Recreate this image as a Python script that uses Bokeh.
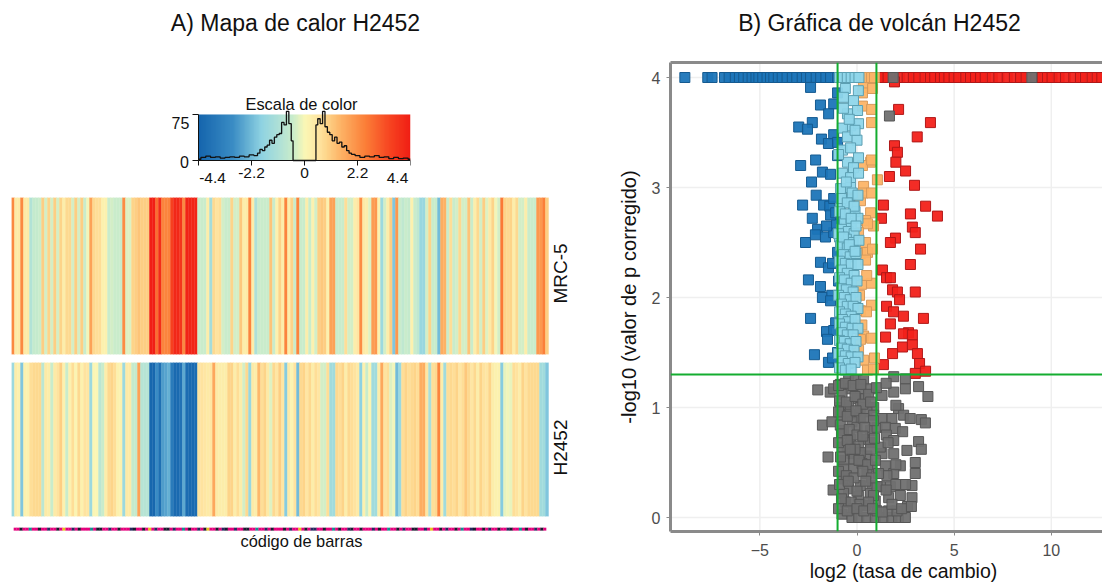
from bokeh.plotting import figure
from bokeh.layouts import row, column
from bokeh.models import Label, Span, FixedTicker, LinearAxis, ColumnDataSource, LinearColorMapper
from bokeh.transform import linear_cmap, factor_cmap
from bokeh.embed import file_html
from bokeh.resources import INLINE
import numpy as np, math

FONT = "Liberation Sans"

# ---------- heat map values ----------
mrc5 = [2.3,.4,.4,2.3,.4,.4,-1.0,-.6,-.6,-.5,1.0,-.4,.9,-.4,1.0,-.4,.9,.3,.8,.8,-.4,1.0,-.4,1.0,-.5,-.1,1.8,.8,.7,.7,.2,.2,-.5,-.4,-.5,-.5,-.5,2.2,-.3,-.3,.9,1.0,1.2,1.0,1.0,1.0,
4.3,4.3,2.8,4.0,2.4,2.4,2.4,3.6,4.1,4.1,3.8,2.3,4.2,4.2,4.2,4.2,
-.5,-.5,-.5,.3,-1.3,.8,.6,.7,-.4,-.5,-.5,.9,-.4,-.4,1.1,.3,.4,2.4,.3,-1.1,-.5,-.5,-.5,-.5,1.2,-.5,.2,.9,
.3,2.4,.3,.9,-.5,2.4,-.5,-.5,.3,-.5,.2,-.4,1.0,1.1,1.0,.2,1.8,1.8,-.5,-.5,-.5,.7,-.4,-.4,.3,.5,2.2,.4,.3,-.3,1.9,2.0,.2,-1.5,-.4,.3,1.0,-2.0,2.0,-.5,-.7,-.5,-.6,.2,-.5,-.7,-1.6,-1.6,-.4,.9,-.5,-.5,-2.2,1.6,1.5,-.5,.7,-.5,-.4,.8,-.4,-.4,1.2,-.5,.3,.8,-.4,1.0,-.3,.4,.9,-.1,-.4,2.6,.9,.8,.9,.3,.8,-.4,-.4,.3,-.5,-.5,-.5,2.0,2.0,2.5,1.0]
h2452 = [-1.5,.3,.2,-2.0,.2,.2,.7,.8,.8,.8,-.8,.4,.3,-.5,.4,.6,1.0,.2,-.5,.2,.7,.1,.8,.2,.6,.5,-1.5,.0,.0,-.8,-.5,.3,.8,.9,.7,.2,.2,-1.5,.4,.4,-.6,-.6,1.8,-.9,-.9,-.9,
-4.3,-4.3,-3.0,-4.0,-2.7,-2.6,-2.4,-3.6,-4.2,-4.2,-3.9,-2.5,-4.1,-4.2,-4.2,-4.1,
.6,.6,.5,.4,.5,1.7,.4,.3,.3,.3,.9,.9,.3,.7,.3,-.4,.8,-1.6,.4,.3,1.4,.7,.9,.4,-.3,.8,.5,1.0,
.5,-1.9,.4,.1,.6,-2.2,.8,.9,.5,.8,.3,.7,.5,-.4,-.4,.7,-1.4,-1.4,.8,.7,.9,.3,.8,.7,.6,.4,-1.8,.2,-.5,.1,-1.4,-1.4,.3,1.7,.6,.7,-.3,-.1,-2.2,-1.5,.7,.9,.7,.8,.9,.7,1.6,1.6,.5,-1.2,.7,.8,2.4,.3,-1.4,.7,.8,.7,.9,.5,.7,1.1,.8,.5,.8,.3,.9,.6,.5,.9,.3,.2,.2,-1.9,-.2,-.1,-.2,.7,.6,.3,.9,.6,.8,.8,.8,.8,-1.4,-1.4,-2.0]
barcode = list("mmkmmtmmkmmnmmkmymmnmkmmmtmkkmmnmmkmmmnkmmkmymnmmkkmnmmtmkmmnmkymmkmnkmmnmmkkmmtmmnmkmmmkmnmmymkmnnmmkmmtmkmmnkmmkmmmnmkmmtmmkmnmmkkmmnmymmkmnmmkmtmmnkmmkmnmmkmmnkmmtmkmmnmkm")
barcode_names = {"m": "#e5007d", "k": "#1a1a2e", "n": "#27285f", "t": "#12908e", "y": "#e8c21a"}

# ---------- colour key ----------
key_ticks = [-4.4, -2.2, 0, 2.2, 4.4]
key_labels = ["", "-2.2", "0", "2.2", ""]
hist_x = [-4.4,-4.2,-4.0,-3.8,-3.6,-3.4,-3.2,-3.0,-2.8,-2.6,-2.4,-2.2,-2.0,-1.9,-1.8,-1.7,-1.6,-1.5,-1.4,-1.3,-1.2,-1.1,-1.0,-.9,-.8,-.7,-.6,-.5,-.45,.45,.5,.6,.7,.8,.9,1.0,1.1,1.2,1.3,1.4,1.5,1.6,1.7,1.8,1.9,2.0,2.2,2.4,2.6,2.8,3.0,3.2,3.4,3.6,3.8,4.0,4.2,4.4]
hist_y = [2,5,7,5,6,4,5,6,5,7,6,9,8,12,18,16,22,25,33,28,38,42,44,62,58,80,60,32,0,0,58,68,60,80,55,46,42,32,38,28,30,22,24,16,12,10,8,5,7,6,8,5,6,3,5,3,4,2]

# ---------- volcano values ----------
top_blue_x = [-8.86,-7.68,-7.46,-6.82,-6.58,-6.26,-6.05,-5.83,-5.6,-5.4,-5.2,-5.05,-4.85,-4.63,-4.45,-4.28,-4.05,-3.85,-3.6,-3.33,-3.1,-2.82,-2.6,-2.39,-2.1,-1.87,-1.6,-1.36,-1.0]
top_red_x = [1.1,1.38,1.6,1.9,2.2,2.58,2.9,3.18,3.5,3.78,4.0,4.3,4.5,4.73,5.0,5.24,5.6,5.84,6.1,6.36,6.6,6.96,7.3,7.73,8.1,8.42,8.7,9.2,9.53,9.8,10.04,10.4,10.73,11.16,11.5,11.76,12.1,12.36,12.6]
top_light_x = [-.9,-.7,-.5,-.3,-.1,.1]
top_orange_x = [.3,.55,.75,.9]
top_gray_x = [1.86, 9.0]

blue_x = [-2.39,-1.88,-1.2,-1.46,-1.0,-3.0,-2.3,-2.55,-1.2,-1.83,-1.47,-1.0,-1.0,-2.13,-2.9,-1.78,-1.36,-2.34,-2.1,-2.8,-1.72,-1.4,-1.2,-2.65,-2.03,-2.14,-1.62,-1.2,-1.05,-1.0,-1.88,-1.47,-1.26,-2.5,-1.88,-.95,-1.78,-1.3,-1.36,-2.39,-1.1,-1.57,-1.2,-1.52,-2.19,-1.0,-1.47,-1.26,-1.36,-2.3,-1.57,-1.1]
blue_y = [3.91,3.75,3.76,3.67,3.86,3.55,3.59,3.53,3.48,3.44,3.4,3.41,3.29,3.25,3.2,3.14,3.12,3.05,2.93,2.84,2.84,2.83,2.9,2.5,2.62,2.57,2.55,2.59,2.67,2.41,2.32,2.27,2.31,2.16,2.1,2.15,2.0,2.02,1.97,1.81,1.77,1.69,1.7,1.62,1.48,1.5,1.41,1.45,2.75,2.72,2.65,2.77]
red_x = [1.93,2.14,3.78,3.1,1.93,2.08,2.0,2.5,1.67,2.96,1.36,3.53,2.75,4.14,1.26,2.85,3.0,1.98,1.72,3.27,2.75,1.31,1.52,1.72,1.83,2.08,3.0,2.19,1.52,1.88,2.39,3.42,1.72,2.65,2.39,2.85,1.47,2.34,2.85,1.83,3.11,1.36,3.22,3.53,3.0]
red_y = [3.96,3.71,3.59,3.46,3.38,3.32,3.23,3.15,3.1,3.02,2.84,2.83,2.76,2.74,2.72,2.64,2.59,2.54,2.5,2.44,2.3,2.25,2.18,2.18,2.07,2.05,2.05,1.98,1.92,1.87,1.83,1.81,1.76,1.68,1.67,1.66,1.64,1.55,1.57,1.49,1.49,1.39,1.4,1.33,1.31]
light_x = [-.6,.07,-.7,-.18,-.49,.03,-.33,-.75,.08,-.49,0,-.75,-.33,.08,-.49,-.18,-.75,-.33,.08,-.85,-.33,-.49,-.85,-.18,-.59,-.1,-.65,-.3,.05,-.8,-.45,-.15,-.9,-.55,-.2,.1,-.85,-.5,-.2,-.7,-.35,-.05,-.9,-.6,-.3,.05,-.8,-.5,-.15,-.9,-.65,-.3,0,-.8,-.55,-.2,-.95,-.65,-.35,-.05,-.8,-.5,-.2,.05,-.9,-.6,-.3,-.75,-.45,-.1,-.9,-.6,-.25,.05,-.8,-.5,-.2,-.9,-.65,-.35,-.05,-.8,-.5,-.15,-.95,-.6,-.3,.05,-.75,-.45,-.1,-.9,-.6,-.3,-.7,-.4,-.1,-.95,-.55,-.25,.05,-.8,-.5,-.15,-.9,-.6,-.3,-.05,-.95,-.7,-.4,-.1]
light_y = [3.9,3.88,3.82,3.79,3.67,3.7,3.56,3.54,3.58,3.46,3.43,3.34,3.36,3.27,3.23,3.18,3.13,3.09,3.13,2.99,3.0,2.88,2.81,2.82,2.73,2.78,2.68,2.67,2.72,2.62,2.6,2.58,2.55,2.53,2.5,2.52,2.47,2.45,2.42,2.39,2.37,2.4,2.33,2.31,2.3,2.3,2.25,2.22,2.2,2.18,2.16,2.13,2.15,2.08,2.07,2.05,2.02,2.0,1.98,2.0,1.94,1.92,1.92,1.9,1.87,1.85,1.83,1.8,1.78,1.8,1.76,1.73,1.72,1.72,1.68,1.66,1.66,1.61,1.6,1.58,1.6,1.54,1.53,1.52,1.49,1.47,1.46,1.46,1.42,1.4,1.41,1.36,1.34,1.35,3.72,3.62,3.52,3.3,3.05,2.95,2.93,2.9,2.86,2.83,2.78,2.76,2.72,2.65,2.58,2.55,2.48,2.42]
orange_x = [.7,.34,.8,.28,.28,.75,.75,.7,1.05,.34,.18,.7,.44,.85,.54,.08,.44,.18,.54,.8,.44,.23,.75,.13,.75,.18,.49,.34,.18,.75,.08,.34,.9,.54,.85,.28,.75,.3,.75,.5,.25]
orange_y = [3.99,3.91,3.9,3.86,3.74,3.71,3.59,3.23,3.07,3.01,2.88,2.77,2.7,2.65,2.67,2.59,2.5,2.4,2.41,2.44,2.34,2.12,2.13,2.02,1.93,1.88,1.87,1.65,1.62,1.63,1.52,1.43,1.45,1.34,1.35,3.2,3.25,2.95,2.95,2.2,1.75]
gray_x = [-2.02,-1.38,-1.2,-.86,-.43,-.09,.34,.69,.17,-.34,-.77,0,.43,-.43,.86,.17,-.86,-.38,.51,.17,-.26,-.86,.86,-1.78,-1.29,-.69,0,.69,-.34,.34,-.86,1.03,-.51,.09,.69,-.26,.51,-.77,.17,-1.49,-.14,-.69,.77,-.17,.26,-.69,.51,-.72,.17,-.43,.77,-1.23,-.69,.09,.69,-.6,-.17,.43,.94,-.77,-.26,.09,.51,.94,1.37,1.8,2.14,2.49,1.03,1.63,2.06,1.89,2.49,1.89,1.29,2.49,3.17,3.65,2.14,2.4,1.29,1.8,2.74,3.31,3.52,1.46,1.97,2.35,1.51,1.89,3.17,3.31,2.57,1.89,1.29,2.23,1.46,1.89,3.0,3.0,1.54,2.83,1.72,1.2,2.23,2.83,1.63,1.03,1.11,1.2,1.67,-.39,
-.95,-.6,-.2,.2,.6,1.0,-.9,-.55,-.1,.3,.7,-.95,-.5,-.05,.35,.85,-.8,-.4,0,.4,.9,-.95,-.5,-.1,.3,.7,-.85,-.35,.1,.55,.95,-.95,-.55,-.15,.3,.75,-.9,-.45,0,.45,.85,-.8,-.3,.15,.6,-.95,-.5,.0,.35,.8,1.5,2.0,1.6,2.0,2.5,2.6,1.3,1.8,2.3,1.5,2.0,2.8]
gray_y = [1.16,1.14,1.17,1.21,1.26,1.25,1.25,1.17,1.17,1.17,1.12,1.08,1.08,1.02,1.0,1.0,1.0,.94,.96,.9,.87,.93,.93,.84,.87,.79,.82,.79,.71,.71,.84,.82,.65,.65,.68,.58,.56,.64,.59,.55,.53,.52,.46,.44,.49,.44,.4,.35,.29,.26,.29,.25,.22,.19,.22,.14,.08,.11,.15,.03,0,0,0,0,0,0,0,0,.06,.06,.06,1.28,1.26,1.14,1.11,1.17,1.19,1.1,.99,.93,.9,.9,.9,.89,.86,.82,.81,.78,.75,.7,.69,.62,.61,.58,.58,.47,.47,.4,.5,.4,.38,.29,.28,.28,.2,.18,.18,.28,.4,.64,3.65,2.91,
1.2,1.22,1.2,1.21,1.12,1.18,1.06,1.05,1.1,1.03,1.05,.96,.92,.97,.9,.88,.76,.8,.75,.82,.72,.68,.7,.62,.74,.62,.55,.62,.52,.48,.52,.42,.38,.36,.42,.36,.3,.33,.24,.33,.2,.17,.14,.12,.14,.08,.06,.08,.06,.08,1.22,1.02,.68,.3,.3,.1,.05,.12,.08,.25,.48,.1]
x_ticks = [-5, 0, 5, 10]
y_ticks = [0, 1, 2, 3, 4]
x_thresholds = [-1, 1]
y_threshold = 1.3
top_y = 4.0

# ---------- palette ----------
anchor_v = [-4.4,-3,-1.8,-1,-.5,0,.6,.9,1.5,2.5,3.6,4.4]
anchor_c = ["#1565ad","#3a8cc4","#8fd3e2","#b2e2d6","#c9eccb","#fbf7b5","#fee39f","#fdd58a","#fdb265","#fb7f38","#f6401f","#f01c14"]
def hex2rgb(h): return [int(h[i:i+2],16) for i in (1,3,5)]
grid = np.linspace(-4.4,4.4,256)
rgb = np.array([hex2rgb(c) for c in anchor_c],dtype=float)
palette = ["#%02x%02x%02x" % tuple(int(round(np.interp(v,anchor_v,rgb[:,k]))) for k in range(3)) for v in grid]

def fig(w,h,l,r,t,b,xr,yr):
    return figure(width=w,height=h,x_range=xr,y_range=yr,x_axis_type=None,y_axis_type=None,
               toolbar_location=None,output_backend="svg",outline_line_color=None,frame_align=False,
               min_border_left=l,min_border_right=r,min_border_top=t,min_border_bottom=b,
               background_fill_color=None,border_fill_color=None)

def label(p,fx,fy,text,size,angle=0,color="#111111"):
    p.add_layout(Label(x=fx,y=fy,x_units="screen",y_units="screen",text=text,text_font=FONT,
        text_font_size=f"{size}px",text_color=color,text_align="center",text_baseline="middle",angle=angle))

W_LEFT = 608
n = len(mrc5)

head_a = fig(W_LEFT,85,0,0,0,0,(0,1),(0,1))
label(head_a,295,63,"A) Mapa de calor H2452",23)

# colour key: frame x 165..410, y 96..186; scale bar occupies x 198..410, y 114..160
key = fig(W_LEFT,108,165,198,11,7,(-4.4-33/24.09,4.4),(-42.4,104.3))
key.image(image=[grid.reshape(1,-1)],x=-4.4,y=0,dw=8.8,dh=75,
          color_mapper=LinearColorMapper(palette=palette,low=-4.4,high=4.4))
key.step(hist_x,hist_y,mode="center",line_color="#111111",line_width=1.3)
ax = LinearAxis(ticker=FixedTicker(ticks=key_ticks),major_label_overrides=dict(zip(key_ticks,key_labels)),fixed_location=0,bounds=(-4.4,4.4),
    major_label_text_font=FONT,major_label_text_font_size="15.5px",major_label_text_color="#111111",
    major_tick_in=0,major_tick_out=5,minor_tick_line_color=None,major_label_standoff=3,axis_line_color="#111111",major_tick_line_color="#111111")
key.add_layout(ax,"below")
ay = LinearAxis(ticker=FixedTicker(ticks=[0,75]),bounds=(0,75),fixed_location=-4.4,major_label_overrides={0:"",75:""},
    major_label_text_font=FONT,major_label_text_font_size="15px",major_label_text_color="#111111",
    major_tick_in=0,major_tick_out=6,minor_tick_line_color=None,major_label_standoff=2,axis_line_color="#111111",major_tick_line_color="#111111")
key.add_layout(ay,"left")
label(key,136,83,"Escala de color",16.4)
label(key,47,9,"-4.4",15.5)
label(key,232,9,"4.4",15.5)
label(key,15,64,"75",16)
label(key,19,25,"0",16)

def strip(values,h,t,b,text,fy):
    p = fig(W_LEFT,h,11,33,t,b,(-.5,n+8.5),(0,1))
    src = ColumnDataSource(dict(x=list(range(n)),v=values,b=[0]*n,t=[1]*n))
    cm = linear_cmap("v",palette,-4.4,4.4)
    p.vbar(x="x",top="t",bottom="b",width=1,source=src,fill_color=cm,line_color=cm,line_width=.4)
    label(p,549,fy,text,19,angle=math.pi/2)
    return p

mrc = strip(mrc5,165,4,4,"MRC-5",81)
h2 = strip(h2452,162,4,4,"H2452",69)

cats = list(barcode_names)
bar = fig(W_LEFT,62,13,62,7,31,(-.5,len(barcode)-.5),(-7,1))
bsrc = ColumnDataSource(dict(x=list(range(len(barcode))),c=barcode,b=[0]*len(barcode),t=[1]*len(barcode)))
bc = factor_cmap("c",[barcode_names[c] for c in cats],cats)
bar.vbar(x="x",top="t",bottom="b",width=1,source=bsrc,fill_color=bc,line_color=bc,line_width=.2)
label(bar,288,11,"código de barras",16.4)

left = column(head_a,key,mrc,h2,bar,spacing=0)

head_b = fig(494,40,0,0,0,0,(0,1),(0,1))
label(head_b,271,18,"B) Gráfica de volcán H2452",23)

# volcano: frame x 670..1102, y 62..531
vx = ((670-856.5)/19.43,(1102-856.5)/19.43)
vy = (4-(531-77)/110,4-(62-77)/110)
v = figure(width=494,height=519,x_range=vx,y_range=vy,toolbar_location=None,output_backend="svg",frame_align=False,
           x_axis_type=None,y_axis_type=None,outline_line_color=None,
           min_border_left=62,min_border_right=0,min_border_top=22,min_border_bottom=28)
common = dict(major_label_text_font=FONT,major_label_text_font_size="16px",major_label_text_color="#4d4d4d",
    minor_tick_line_color=None,major_tick_line_color="#8a8a8a",major_tick_line_width=1,major_tick_in=0,major_tick_out=4,
    axis_line_color="#8a8a8a",axis_line_width=3,axis_label_text_font=FONT,axis_label_text_font_size="20.2px",
    axis_label_text_font_style="normal",axis_label_text_color="#111111")
xa = LinearAxis(ticker=FixedTicker(ticks=x_ticks),major_label_standoff=8,**common)
ya = LinearAxis(ticker=FixedTicker(ticks=y_ticks),axis_label="-log10 (valor de p corregido)",major_label_standoff=6,axis_label_standoff=9,**common)
v.add_layout(xa,"below"); v.add_layout(ya,"left")
ta = LinearAxis(ticker=FixedTicker(ticks=[]),axis_line_color="#8a8a8a",axis_line_width=3,major_label_text_color=None,
                major_tick_line_color=None,minor_tick_line_color=None)
v.add_layout(ta,"above")
for loc in x_ticks:
    v.add_layout(Span(location=loc,dimension="height",line_color="#efefef",line_width=1.5,level="underlay"))
for loc in y_ticks:
    v.add_layout(Span(location=loc,dimension="width",line_color="#efefef",line_width=1.5,level="underlay"))

def sq(xs,ys,fill,edge):
    v.scatter(xs,ys,marker="square",size=10,fill_color=fill,line_color=edge,line_width=1,fill_alpha=.95,line_join="miter")
sq(top_blue_x+blue_x,[top_y]*len(top_blue_x)+blue_y,"#1c75b8","#155a90")
sq(top_red_x+red_x,[top_y]*len(top_red_x)+red_y,"#f2211a","#b01818")
sq(gray_x+top_gray_x,gray_y+[top_y]*len(top_gray_x),"#707070","#565656")
sq(orange_x+top_orange_x,orange_y+[top_y]*len(top_orange_x),"#fcb467","#d79a5c")
sq(light_x+top_light_x,light_y+[top_y]*len(top_light_x),"#8fd6ea","#5c9fb2")
for loc in x_thresholds:
    v.add_layout(Span(location=loc,dimension="height",line_color="#14ad30",line_width=2))
v.add_layout(Span(location=y_threshold,dimension="width",line_color="#14ad30",line_width=2))

foot = fig(494,23,0,0,0,0,(0,1),(0,1))
label(foot,295,12,"log2 (tasa de cambio)",19.5)

right = column(head_b,v,foot,spacing=0)
page = row(left,right,spacing=0)
open("out.html","w").write(file_html(page,INLINE))
